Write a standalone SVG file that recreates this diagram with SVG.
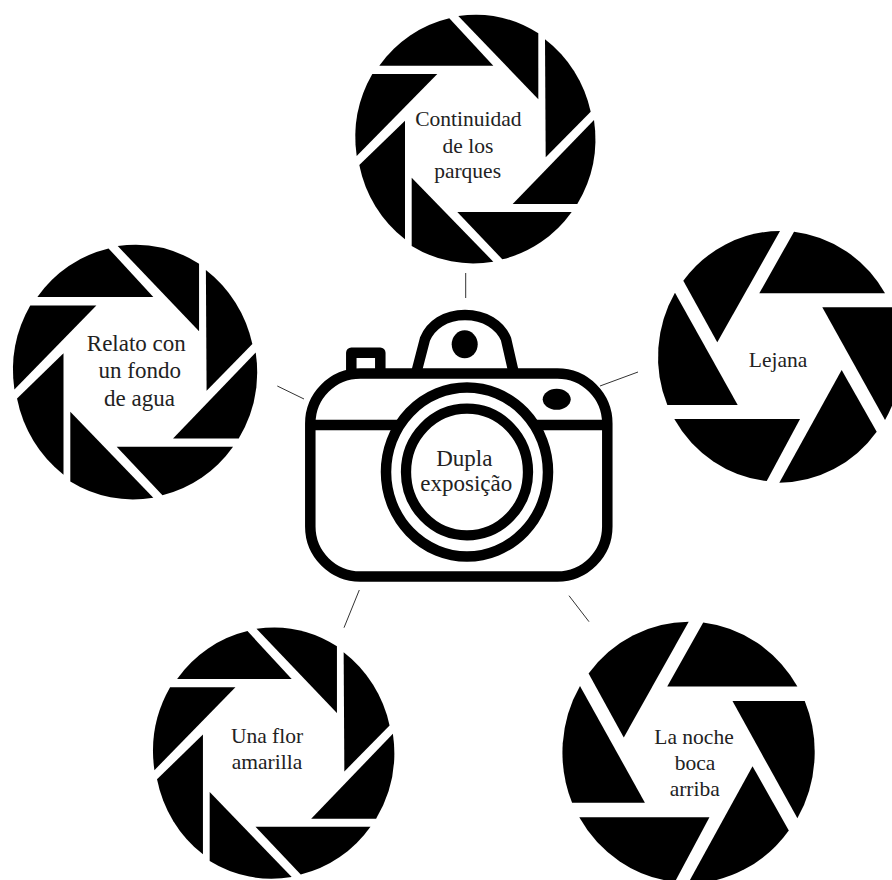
<svg xmlns="http://www.w3.org/2000/svg" width="892" height="880" viewBox="0 0 892 880">
<style>
text{font-family:"Liberation Serif","Times New Roman",serif;font-size:21.5px;fill:#222;text-anchor:middle}
.big text,text.big{font-size:23px}
.con line{stroke:#333;stroke-width:1}
.cam{fill:none;stroke:#000;stroke-width:10.5;stroke-linejoin:round}
</style>
<defs>
<g id="iris8" fill="#000">
<path d="M18.3-73.3L-25.7-120.7A120 124 0 0 0-95.7-73.3Z"/>
<path d="M-16.7-123A120 124 0 0 1 63.3-105.7V-39.7Z"/>
<path d="M70-99.7A120 124 0 0 1 115.7-27.3L70.7 18.3Z"/>
<path d="M119-19A120 124 0 0 1 102.3 65H37.7Z"/>
<path d="M96.7 73A120 124 0 0 1 27.3 120.3L-17.7 73Z"/>
<path d="M18.3 122.7A120 124 0 0 1-63.3 107V38.7Z"/>
<path d="M-70 100.3A120 124 0 0 1-115.7 26L-70-18.3Z"/>
<path d="M-118.3 17A120 124 0 0 1-102.7-65H-37.7Z"/>
</g>
<g id="iris6" fill="#000">
<path d="M108.5-63.7A126 126 0 0 0 14.5-125.3L-21.4-63.7Z"/>
<path d="M0-126A126 126 0 0 0-99.9-76.3L-64.8-14.7Z"/>
<path d="M-108.5-64.3A126 126 0 0 0-116.4 48H-43.7Z"/>
<path d="M-109.2 62A126 126 0 0 0-13.7 124L20.7 62Z"/>
<path d="M-.7 125.7A126 126 0 0 0 99.9 74.7L63.7 13Z"/>
<path d="M43.7-49.7H115.8A126 126 0 0 1 108.5 63Z"/>
</g>
</defs>
<rect width="892" height="880" fill="#fff"/>
<g id="connectors" class="con">
<line x1="465.7" y1="273" x2="465.7" y2="298"/>
<line x1="600" y1="386" x2="638" y2="372"/>
<line x1="277.3" y1="386" x2="304" y2="399"/>
<line x1="359.3" y1="590" x2="344" y2="627.7"/>
<line x1="569" y1="595.7" x2="589" y2="621.7"/>
</g>
<g id="node-camera">
<rect class="cam" x="310.3" y="373.5" width="297" height="203" rx="50" ry="50"/>
<path class="cam" d="M351.3 378V352.7H380.3V372"/>
<path class="cam" d="M416.7 371L425 339C431 325 445 315 465 315C485 315 500 325 506 339L513.3 371"/>
<ellipse cx="464.7" cy="344.3" rx="13" ry="14" fill="#000"/>
<ellipse cx="556.7" cy="399.3" rx="14" ry="10.5" fill="#000"/>
<path class="cam" d="M310 425H607"/>
<ellipse cx="467" cy="472" rx="81" ry="84.5" fill="#fff" stroke="#000" stroke-width="10.5"/>
<ellipse cx="467" cy="472" rx="61" ry="63.3" fill="#fff" stroke="#000" stroke-width="10.3"/>
<text class="big" x="464.3" y="465.7">Dupla</text>
<text class="big" x="466.3" y="490.7">exposição</text>
</g>
<g id="node-continuidad">
<use href="#iris8" transform="translate(475 139)"/>
<text x="468.3" y="126">Continuidad</text>
<text x="468" y="152.5">de los</text>
<text x="467.6" y="178">parques</text>
</g>
<g id="node-lejana">
<use href="#iris6" transform="translate(780 357) scale(.968 1)"/>
<text x="778" y="367.3">Lejana</text>
</g>
<g id="node-relato">
<use href="#iris8" transform="translate(134.7 372) scale(1.017 1.024)"/>
<text class="big" x="136.3" y="350.7">Relato con</text>
<text class="big" x="139.7" y="378.3">un fondo</text>
<text class="big" x="139.5" y="406">de agua</text>
</g>
<g id="node-flor">
<use href="#iris8" transform="translate(273.3 753) scale(1.005 1.01)"/>
<text x="267" y="743.3">Una flor</text>
<text x="267" y="769.3">amarilla</text>
</g>
<g id="node-noche">
<use href="#iris6" transform="translate(688.7 752.8) scale(1.002 1.04)"/>
<text x="694" y="744.3">La noche</text>
<text x="695" y="770">boca</text>
<text x="694.7" y="795.7">arriba</text>
</g>
</svg>
